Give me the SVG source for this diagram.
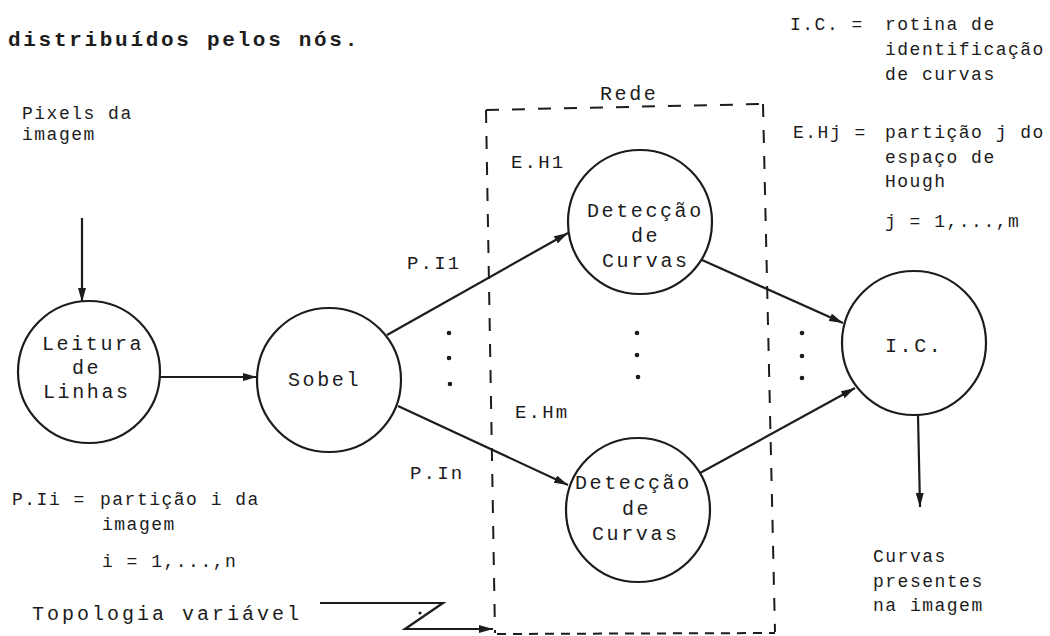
<svg xmlns="http://www.w3.org/2000/svg" width="1050" height="636" viewBox="0 0 1050 636">
  <style>
    text { font-family: "Liberation Mono", "DejaVu Sans Mono", monospace; fill: #1c1c1c; }
    .title { font-size: 21px; font-weight: bold; letter-spacing: 2.7px; }
    .node  { font-size: 20px; letter-spacing: 2.6px; }
    .note  { font-size: 18px; letter-spacing: 1.5px; }
    .lbl   { font-size: 19px; letter-spacing: 2.2px; }
    .big   { font-size: 20px; letter-spacing: 3px; }
    .circ  { fill: none; stroke: #1c1c1c; stroke-width: 2.2; }
    .edge  { fill: none; stroke: #1c1c1c; stroke-width: 2.2; }
    .arrow { marker-end: url(#head); }
    .box   { fill: none; stroke: #1c1c1c; stroke-width: 2; stroke-dasharray: 13 13; }
    .boxb  { fill: none; stroke: #1c1c1c; stroke-width: 2; stroke-dasharray: 9 7; }
    .dot   { fill: #1c1c1c; }
  </style>
  <defs>
    <marker id="head" viewBox="0 0 14 8" refX="14" refY="4" markerWidth="14" markerHeight="8" markerUnits="userSpaceOnUse" orient="auto">
      <path d="M0,0 L14,4 L0,8 Z" fill="#1c1c1c"/>
    </marker>
  </defs>
  <rect width="1050" height="636" fill="#ffffff"/>

  <!-- heading -->
  <text class="title" x="8" y="46">distribuídos pelos nós.</text>

  <!-- legend, right column -->
  <g id="legend-ic">
    <text class="note" x="790" y="30">I.C. =</text>
    <text class="note" x="885" y="30">rotina de</text>
    <text class="note" x="885" y="55">identificação</text>
    <text class="note" x="885" y="80">de curvas</text>
  </g>
  <g id="legend-eh">
    <text class="note" x="793" y="138">E.Hj =</text>
    <text class="note" x="885" y="138">partição j do</text>
    <text class="note" x="885" y="163">espaço de</text>
    <text class="note" x="885" y="187">Hough</text>
    <text class="note" x="885" y="227">j = 1,...,m</text>
  </g>

  <!-- legend, left column -->
  <g id="legend-pi">
    <text class="note" x="12" y="505">P.Ii =</text>
    <text class="note" x="100" y="505">partição i da</text>
    <text class="note" x="102" y="530">imagem</text>
    <text class="note" x="102" y="567">i = 1,...,n</text>
  </g>

  <!-- input / output labels -->
  <g id="input">
    <text class="note" x="22" y="119">Pixels da</text>
    <text class="note" x="22" y="140">imagem</text>
  </g>
  <g id="output">
    <text class="note" x="873" y="562">Curvas</text>
    <text class="note" x="873" y="587">presentes</text>
    <text class="note" x="873" y="611">na imagem</text>
  </g>

  <!-- network boundary -->
  <g id="rede">
    <path class="box" d="M486,110 L763,104"/>
    <path class="box" d="M763,104 L775,632"/>
    <path class="box" d="M486,110 L495,633"/>
    <path class="boxb" d="M497,634 L775,633"/>
    <text class="node" x="600" y="100">Rede</text>
  </g>

  <g id="topologia">
    <text class="big" x="32" y="620">Topologia variável</text>
  </g>

  <!-- nodes -->
  <g id="leitura">
    <circle class="circ" cx="89" cy="372" r="71"/>
    <text class="node" x="42" y="350">Leitura</text>
    <text class="node" x="72" y="374">de</text>
    <text class="node" x="43" y="398">Linhas</text>
  </g>
  <g id="sobel">
    <circle class="circ" cx="329" cy="380" r="72"/>
    <text class="node" x="288" y="386">Sobel</text>
  </g>
  <g id="deteccao-1">
    <circle class="circ" cx="640" cy="222" r="72"/>
    <text class="node" x="587" y="217">Detecção</text>
    <text class="node" x="631" y="242">de</text>
    <text class="node" x="602" y="267">Curvas</text>
  </g>
  <g id="deteccao-m">
    <circle class="circ" cx="638" cy="510" r="72"/>
    <text class="node" x="575" y="489">Detecção</text>
    <text class="node" x="622" y="515">de</text>
    <text class="node" x="592" y="540">Curvas</text>
  </g>
  <g id="ic">
    <circle class="circ" cx="914" cy="343" r="72"/>
    <text class="node" x="885" y="352">I.C.</text>
  </g>

  <!-- edge labels -->
  <g id="edge-labels">
    <text class="lbl" x="511" y="168">E.H1</text>
    <text class="lbl" x="515" y="418">E.Hm</text>
    <text class="lbl" x="407" y="269">P.I1</text>
    <text class="lbl" x="410" y="479">P.In</text>
  </g>

  <!-- ellipsis dots between parallel branches -->
  <g id="ellipses">
    <circle class="dot" cx="449" cy="333" r="2.3"/>
    <circle class="dot" cx="449" cy="358" r="2.3"/>
    <circle class="dot" cx="450" cy="384" r="2.3"/>
    <circle class="dot" cx="637" cy="333" r="2.3"/>
    <circle class="dot" cx="637" cy="355" r="2.3"/>
    <circle class="dot" cx="638" cy="377" r="2.3"/>
    <circle class="dot" cx="802" cy="333" r="2.3"/>
    <circle class="dot" cx="802" cy="356" r="2.3"/>
    <circle class="dot" cx="802" cy="378" r="2.3"/>
  </g>

  <!-- connectors -->
  <g id="connectors">
    <line class="edge arrow" x1="82" y1="218" x2="82" y2="302"/>
    <line class="edge arrow" x1="160" y1="377" x2="257" y2="377"/>
    <line class="edge arrow" x1="387" y1="335" x2="568" y2="233"/>
    <line class="edge arrow" x1="398" y1="406" x2="568" y2="485"/>
    <line class="edge arrow" x1="702" y1="260" x2="843" y2="323"/>
    <line class="edge arrow" x1="700" y1="473" x2="855" y2="388"/>
    <line class="edge arrow" x1="918" y1="415" x2="920" y2="507"/>
    <polyline class="edge arrow" points="320,603 443,603 405,629 493,629"/>
    <circle class="dot" cx="420" cy="613" r="1.6"/>
  </g>
</svg>
